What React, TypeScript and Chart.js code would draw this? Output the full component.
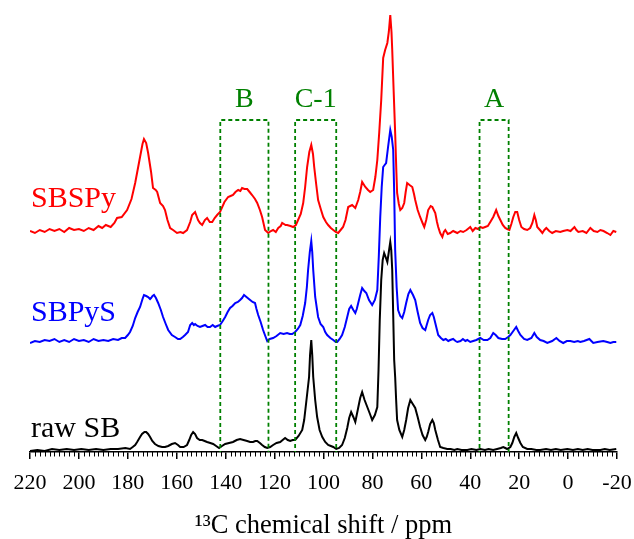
import React, { useEffect, useRef } from "react";
import { Chart, registerables } from "chart.js";

Chart.register(...registerables);

// Chemical shift (ppm) / intensity pairs
const sbspy: number[][] = [
  [220,1],[218,-1],[216,2],[214,0],[212,3],[210,1],[208,3],[206,0],[204,4],[202,2],[200,3],[198,1],[196,4],[194,2],[192,6],[190.5,4],[189,7],[187,5],[185.5,9],[184.4,14],[182.5,15],[180.3,22],[178.5,33],[177,49],[175,75],[174,88],[173.4,93],[172.5,89],[171.7,79],[170.5,60],[169.7,44],[168.6,42],[168,40],[166.8,29],[165.6,26],[164.8,22],[163.8,12],[162.7,4],[161.5,2],[159.9,-1],[158.5,0],[157.4,-1],[155.8,2],[154.5,10],[153.7,17],[152.5,20],[151.3,12],[150.5,9],[149.6,7],[148.5,12],[147.6,14],[146.5,10],[145.5,10],[144.5,14],[143.5,17],[142.3,20],[140.5,30],[139,35],[138,36],[137,37],[136,40],[134.9,42],[134,41],[133.3,44],[132.3,43],[131.2,43],[130.2,40],[129.2,37],[128,33],[127.1,29],[126,22],[125.1,15],[123.9,2],[122.6,-1],[121.5,1],[120.6,2],[119.5,0],[118.5,4],[117.5,6],[116.9,9],[115.5,7],[114.9,7],[113.5,6],[112.4,5],[111.3,7],[110.4,12],[109.3,18],[108.3,29],[107.5,45],[106.7,65],[105.8,80],[105,87],[104.3,78],[103.8,65],[103,48],[102.2,32],[101,22],[100.1,15],[99,10],[98.1,7],[97,4],[96,2],[95,0],[94,-1],[93,2],[92,5],[91,12],[89.9,25],[88.3,27],[87,24],[85.8,32],[85,40],[84.2,50],[82.9,45],[81.8,42],[80.9,40],[79.7,42],[78.8,55],[78,72],[77.2,100],[76.4,132],[75.6,174],[74.8,182],[73.9,189],[73.3,200],[72.7,217],[72.2,200],[71.9,182],[71.3,140],[70.7,99],[70.2,60],[69.9,39],[69.2,28],[68.6,22],[67.8,24],[67,29],[66.4,40],[65.8,49],[64.8,47],[63.7,45],[63,38],[62.5,32],[61.5,22],[60.5,15],[59.5,9],[58.8,5],[58,12],[57.2,22],[56.2,26],[55.5,25],[54.3,19],[53.6,10],[53.1,5],[52.3,-1],[51.4,-5],[50.8,0],[50.2,2],[49.2,-2],[48.2,-1],[47,1],[45.3,-1],[44,1],[42.9,0],[41.5,2],[40,5],[39,1],[37.9,4],[36.8,3],[35.9,5],[34.9,4],[33.9,5],[32.8,6],[31.8,10],[30.6,15],[29.4,22],[28.5,16],[27.7,12],[26.7,7],[25.7,4],[24.9,3],[24,2],[23.2,8],[22.4,15],[21.6,20],[20.8,20],[20,12],[19.1,5],[18,3],[16.7,2],[15.5,4],[14.6,9],[13.8,17],[13.2,12],[12.6,5],[11.5,2],[10.5,-1],[9.7,2],[8.9,4],[7.7,1],[6.5,-1],[5,1],[3.2,0],[2,1],[0.3,2],[-1,1],[-2.6,5],[-3.4,2],[-4.2,0],[-6,1],[-7.5,-1],[-9.1,4],[-10.5,1],[-12,0],[-13.2,2],[-14.5,1],[-16,-1],[-17.3,-3],[-18.5,1],[-19.7,0]
];

const sbpys: number[][] = [
  [220,-1],[218,1],[216,0],[214,2],[212,1],[210,3],[208,0],[206,2],[204,0],[202,3],[200,1],[198,2],[196,0],[194,3],[192,1],[190,2],[188,1],[186,3],[184,2],[182.5,4],[181.1,4],[180,7],[179.1,10],[178,16],[177,24],[176,30],[175,35],[174,43],[173.4,47],[172.5,46],[171.7,45],[170.9,43],[170.5,44],[169.9,46],[169.3,47],[168.5,44],[167.6,39],[166.5,32],[165.6,25],[164.5,18],[163.5,12],[162,7],[160.7,5],[159.5,3],[158.6,3],[157.5,5],[156.6,7],[155.4,10],[154.5,17],[153.7,19],[153,17],[152.5,18],[151.5,16],[150.5,15],[149.5,16],[148.4,17],[147.4,15],[146.4,15],[145.3,17],[144.3,15],[143.5,16],[142.3,17],[141.2,21],[140.2,25],[139.2,30],[138.2,34],[137.2,36],[136.1,39],[135,40],[134.1,42],[133.3,44],[132.5,47],[131.5,45],[130,42],[129,40],[128,39],[127.4,33],[126.7,27],[125.7,20],[124.7,12],[123.8,6],[123,1],[122,3],[120.6,4],[119.2,6],[117.7,9],[116.3,8],[114.9,9],[113.8,8],[112.8,8],[111.6,10],[110.5,13],[109.5,17],[108.5,26],[107.5,39],[106.8,55],[106.3,72],[105.6,90],[105,101],[104.6,90],[104.2,72],[103.4,45],[102.2,25],[101.2,18],[100.1,15],[99.3,10],[98.5,7],[97.2,4],[96,2],[95,0],[94.4,0],[93.4,3],[92.4,7],[91.3,15],[90.3,25],[89.5,33],[88.7,36],[87.8,32],[87,29],[86.4,33],[85.8,39],[85,47],[84.2,54],[83.3,51],[82.5,49],[81.4,42],[80.1,37],[79,42],[78,52],[77.4,85],[76.8,125],[76.2,155],[75.6,175],[75,177],[74.4,179],[73.6,195],[72.7,212],[72.1,205],[71.5,192],[71.1,150],[70.7,92],[70.1,55],[69.5,32],[68.6,26],[67.8,24],[67,30],[66.2,39],[65.3,48],[64.5,52],[63.4,47],[62.5,42],[61.5,30],[60.5,19],[59.5,14],[58.4,12],[57.8,17],[57.2,22],[56.4,27],[55.5,29],[54.9,25],[54.3,19],[53.6,12],[53.1,7],[52,4],[51,2],[50,3],[49,1],[48.2,2],[47,3],[46,1],[45.3,0],[44,1],[43,3],[42,1],[41.2,2],[40,0],[38.8,1],[37.5,2],[35.9,4],[34.5,2],[33,2],[31.8,4],[30.6,9],[29.6,7],[28.5,4],[27,3],[25.7,3],[24.5,5],[23.6,7],[22.4,11],[21.2,15],[20.4,11],[19.5,7],[18,3],[16.7,2],[15,4],[13.8,9],[12.8,5],[11.4,2],[10,1],[8.5,-1],[6.5,1],[4.8,4],[3.5,1],[2,-1],[0.5,1],[-0.9,1],[-2.5,0],[-4,1],[-5,0],[-6.5,1],[-8.7,3],[-9.5,1],[-10.3,-1],[-12,0],[-14.4,1],[-16,0],[-17.3,-1],[-18.5,0],[-19.7,0]
];

const rawSB: number[][] = [
  [220,-1],[217,0],[214,-1],[211,1],[208,0],[205,1],[202,0],[199,1],[196,0],[193,1],[190,0],[187,1],[184,1],[181,2],[179.1,1],[178,3],[177,5],[176.2,8],[175,13],[174.2,16],[173.2,18],[172.5,18],[171.7,16],[170.9,13],[170,9],[168.9,6],[167.5,4],[166,3],[164.8,3],[163.5,4],[162,6],[160.7,7],[159.5,5],[158.6,3],[157.2,3],[155.8,5],[154.9,10],[154.1,15],[153.3,18],[152.5,16],[151.7,12],[150.6,10],[149.6,10],[148.6,9],[147.6,8],[146.3,7],[145.1,6],[143.9,4],[142.7,2],[141.5,4],[140.2,6],[138.6,7],[137,8],[135.5,10],[134.1,11],[132.7,10],[131.2,9],[130,8],[128.8,8],[127.9,9],[127.1,9],[126,7],[125.1,5],[124,3],[123,2],[121.8,3],[120.6,5],[119.2,7],[117.7,8],[116.7,10],[115.7,12],[114.6,10],[113.6,9],[112.6,10],[111.6,10],[110.2,14],[108.7,20],[107.9,30],[107.1,47],[106.5,60],[105.9,73],[105.5,95],[105,110],[104.6,95],[104.2,73],[103.4,50],[102.6,33],[101.6,20],[100.5,13],[99.3,8],[98.1,5],[97,4],[96,3],[94.8,1],[93.6,2],[92.4,5],[91.3,12],[90.3,22],[89.5,32],[88.7,38],[87.8,33],[87,28],[86,40],[85,52],[84.2,58],[83.2,50],[82.1,43],[81,36],[80.1,30],[79,35],[78,43],[77.5,80],[77,130],[76.4,170],[75.8,190],[75.2,197],[74.6,193],[73.9,188],[73.3,198],[72.7,208],[72.3,200],[71.9,180],[71.5,135],[71.1,90],[70.7,73],[70.3,50],[69.9,30],[69,20],[67.8,13],[67,20],[66.2,30],[65.4,42],[64.5,50],[63.5,46],[62.5,42],[61.5,33],[60.5,23],[59.5,15],[58.4,10],[57.8,13],[57.2,18],[56.4,26],[55.5,30],[54.9,27],[54.3,20],[53.2,10],[52.3,3],[51,2],[49.4,1],[48,1],[46.5,0],[45.3,1],[43.5,0],[41.2,0],[39.5,1],[37.5,0],[35.9,1],[34,0],[32.5,1],[30.6,0],[29,1],[27.5,2],[26.5,3],[25.7,2],[24.9,1],[23.6,3],[22.8,7],[22,13],[21.2,17],[20.4,12],[19.5,7],[18.5,3],[16.7,1],[15,1],[13,0],[11.4,0],[9,1],[7,0],[5,1],[3,0],[0.3,1],[-2,0],[-4,1],[-6,0],[-8,1],[-10,0],[-13.2,0],[-15,1],[-17,0],[-19.7,1]
];

const seriesNames = ["SBSPy", "SBPyS", "raw SB"];
const seriesColors = ["#ff0000", "#0000ff", "#000000"];
const seriesOffsets = [220, 110, 2];
const seriesData = [sbspy, sbpys, rawSB];

// Dashed region boxes (ppm ranges)
const boxLabels = ["B", "C-1", "A"];
const boxFrom = [142.2, 111.6, 36.2];
const boxTo = [122.5, 94.8, 24.3];
const boxTop = 332;
const boxBottom = -3;

const xMin = -20;
const xMax = 220;
const majorStep = 20;
const minorStep = 2;

const FONT = '"Liberation Serif", "Times New Roman", serif';
const GREEN = "#008000";

const labelsPlugin = {
  id: "labels",
  afterDatasetsDraw(chart: any) {
    const { ctx, scales } = chart;
    const xs = scales.x;
    const ys = scales.y;
    ctx.save();
    ctx.font = `30px ${FONT}`;
    ctx.textAlign = "left";
    ctx.textBaseline = "alphabetic";
    const labelY = [245, 131, 15];
    seriesNames.forEach((n, i) => {
      ctx.fillStyle = seriesColors[i];
      ctx.fillText(n, xs.getPixelForValue(219.6), ys.getPixelForValue(labelY[i]));
    });
    ctx.font = `28px ${FONT}`;
    ctx.textAlign = "center";
    ctx.fillStyle = GREEN;
    boxLabels.forEach((b, i) => {
      const cx = (xs.getPixelForValue(boxFrom[i]) + xs.getPixelForValue(boxTo[i])) / 2;
      ctx.fillText(b, cx, ys.getPixelForValue(345));
    });
    ctx.restore();
  },
};

// minor tick marks along the x axis, placed through the x scale
const minorTicksPlugin = {
  id: "minorTicks",
  afterDraw(chart: any) {
    const { ctx, scales } = chart;
    const xs = scales.x;
    const y0 = xs.top;
    ctx.save();
    ctx.strokeStyle = "#000";
    ctx.lineWidth = 1;
    ctx.beginPath();
    for (let v = xMin; v <= xMax + 1e-9; v += minorStep) {
      if (v % majorStep === 0) continue;
      const px = Math.round(xs.getPixelForValue(v)) + 0.5;
      ctx.moveTo(px, y0);
      ctx.lineTo(px, y0 + 4.5);
    }
    ctx.stroke();
    ctx.restore();
  },
};

export default function App() {
  const ref = useRef<HTMLCanvasElement | null>(null);
  useEffect(() => {
    document.body.style.margin = "0";
    if (!ref.current) return;
    const spectra = seriesData.map((d, i) => ({
      label: seriesNames[i],
      data: d.map(([x, y]) => ({ x, y: y + seriesOffsets[i] })),
      borderColor: seriesColors[i],
      borderWidth: 2,
      pointRadius: 0,
      showLine: true,
      tension: 0,
      fill: false,
    }));
    const boxes = boxLabels.map((b, i) => ({
      label: b,
      data: [
        { x: boxFrom[i], y: boxBottom },
        { x: boxFrom[i], y: boxTop },
        { x: boxTo[i], y: boxTop },
        { x: boxTo[i], y: boxBottom },
        { x: boxFrom[i], y: boxBottom },
      ],
      borderColor: GREEN,
      borderWidth: 1.8,
      borderDash: [4, 3],
      pointRadius: 0,
      showLine: true,
      tension: 0,
      fill: false,
    }));
    const chart = new Chart(ref.current, {
      type: "scatter",
      data: { datasets: [...boxes, ...spectra] as any },
      options: {
        animation: false,
        responsive: false,
        devicePixelRatio: 1,
        layout: { padding: { left: 30, right: 17, top: 0, bottom: 0 } },
        plugins: { legend: { display: false }, tooltip: { enabled: false } },
        scales: {
          x: {
            type: "linear",
            position: "bottom",
            min: xMin,
            max: xMax,
            reverse: true,
            afterFit: (s: any) => {
              s.height = 87;
              s.paddingLeft = 0;
              s.paddingRight = 0;
            },
            ticks: {
              stepSize: majorStep,
              autoSkip: false,
              maxRotation: 0,
              padding: 11,
              color: "#000",
              font: { family: FONT, size: 22 },
            },
            grid: {
              drawOnChartArea: false,
              drawTicks: true,
              tickLength: 7,
              color: "#000",
              lineWidth: 1.5,
            },
            border: { display: true, color: "#000", width: 1.5 },
            title: {
              display: true,
              text: "¹³C chemical shift / ppm",
              color: "#000",
              font: { family: FONT, size: 26.5 },
              padding: { top: 0, bottom: -3 },
            },
          },
          y: {
            type: "linear",
            display: false,
            min: 0,
            max: 452,
          },
        },
      },
      plugins: [labelsPlugin, minorTicksPlugin],
    });
    return () => chart.destroy();
  }, []);
  return <canvas ref={ref} width={634} height={539} style={{ display: "block" }} />;
}
